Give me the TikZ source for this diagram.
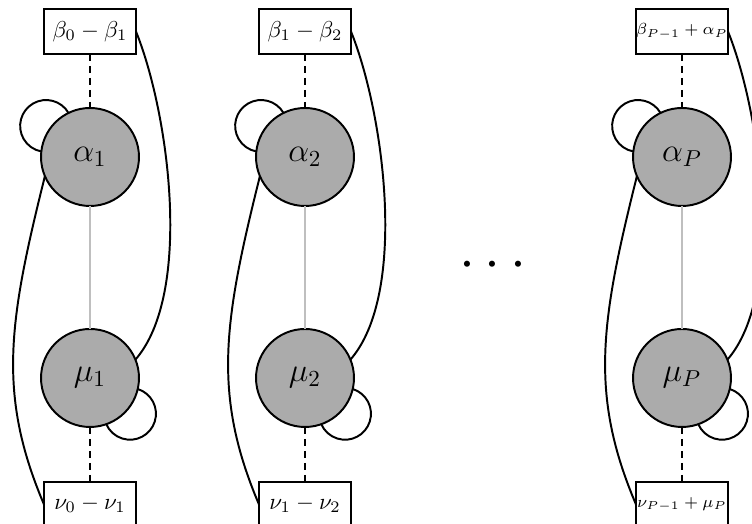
\documentclass[tikz,border=0pt]{standalone}
\usetikzlibrary{calc}
\begin{document}
\begin{tikzpicture}[x=0.4348pt,y=0.4348pt,
  varnode/.style={circle,draw,line width=0.85pt,fill=black!33,minimum size=42.6pt,inner sep=0pt,outer sep=0pt,font=\Large},
  factor/.style={rectangle,draw,line width=0.85pt,fill=white,minimum width=40pt,minimum height=19.6pt,inner sep=0pt,outer sep=0pt},
  link/.style={line width=0.85pt},
  dashlink/.style={line width=0.85pt,dash pattern=on 2.9pt off 2.3pt},
  greylink/.style={line width=0.85pt,draw=black!25}]
\useasboundingbox (0,0) rectangle (752,524);
% column 1
\node[factor] (t1) at (90,492.5) {$\beta_0-\beta_1$};
\node[varnode] (a1) at (90,367) {$\alpha_1$};
\node[varnode] (m1) at (90,146) {$\mu_1$};
\node[factor] (b1) at (90,19.5) {$\nu_0-\nu_1$};
% column 2
\node[factor] (t2) at (305,492.5) {$\beta_1-\beta_2$};
\node[varnode] (a2) at (305,367) {$\alpha_2$};
\node[varnode] (m2) at (305,146) {$\mu_2$};
\node[factor] (b2) at (305,19.5) {$\nu_1-\nu_2$};
% column 3
\node[factor,font=\scriptsize] (t3) at (682,492.5) {$\beta_{P-1}+\alpha_P$};
\node[varnode] (a3) at (682,367) {$\alpha_P$};
\node[varnode] (m3) at (682,146) {$\mu_P$};
\node[factor,font=\scriptsize] (b3) at (682,19.5) {$\nu_{P-1}+\mu_P$};
% dots
\node[anchor=base,font=\Huge,inner sep=0pt] (dots) at (493,245) {$\cdots$};
% connectors
\foreach \i in {1,2,3}{
  \draw[dashlink] (t\i) -- (a\i);
  \draw[dashlink] (m\i) -- (b\i);
  \draw[greylink] (a\i) -- (m\i);
  \draw[link] (t\i.east) .. controls +(-68:88) and +(49:88) .. (m\i.22);
  \draw[link] (a\i.203) .. controls +(256:150) and +(113:120) .. (b\i.west);
  \draw[link] (a\i.116) arc[start angle=30.1,end angle=259.5,radius=11.28pt];
  \draw[link] (m\i.-13) arc[start angle=72.7,end angle=-156.7,radius=11.28pt];
}
\end{tikzpicture}
\end{document}
